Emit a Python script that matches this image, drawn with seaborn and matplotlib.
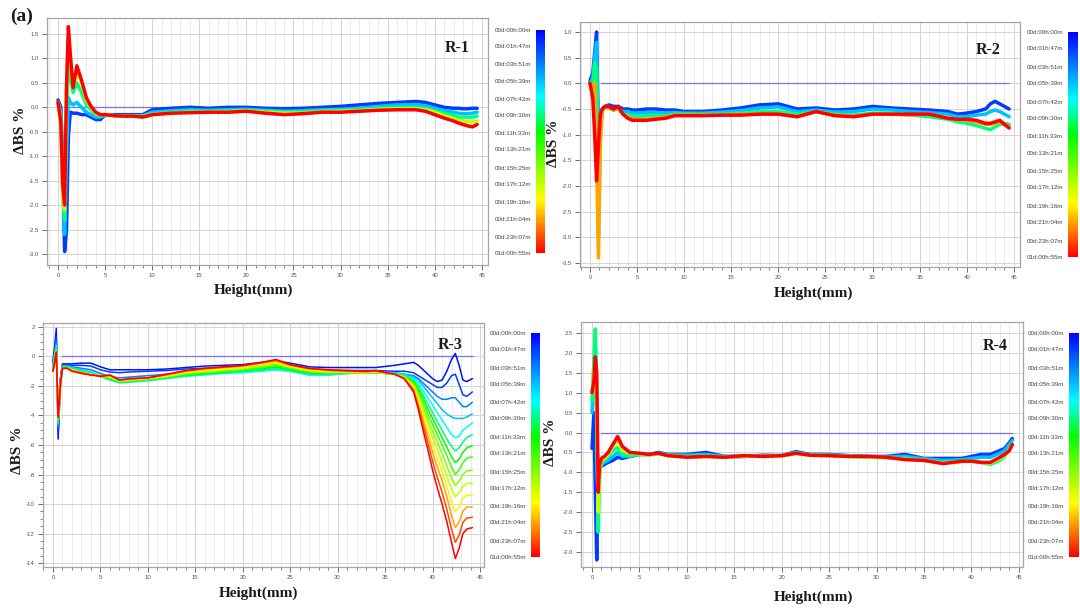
import numpy as np
import pandas as pd
import matplotlib
matplotlib.use("Agg")
import matplotlib.pyplot as plt
import seaborn as sns
from matplotlib.colors import LinearSegmentedColormap, Normalize
from matplotlib.ticker import MultipleLocator

# ---------------- data ----------------
TIME_LABELS = ["00d:00h:00m", "00d:01h:47m", "00d:03h:51m", "00d:05h:39m",
               "00d:07h:42m", "00d:09h:30m", "00d:11h:33m", "00d:13h:21m",
               "00d:15h:25m", "00d:17h:12m", "00d:19h:16m", "00d:21h:04m",
               "00d:23h:07m", "01d:00h:55m"]
TIME_HOURS = [0.0, 1.78, 3.85, 5.65, 7.70, 9.50, 11.55, 13.35,
              15.42, 17.20, 19.27, 21.07, 23.12, 24.92]

# reference (t = 0) profile: ΔBS = 0 along the tube
REF_R1 = ([1.2, 44.5], [0.0, 0.0])
REF_R2 = ([1.2, 44.5], [0.0, 0.0])
REF_R3 = ([0.9, 44.3], [0.0, 0.0])
REF_R4 = ([1.0, 44.3], [0.0, 0.0])

# ---- R-1 ----
R1_H = [0.0, 0.3, 0.5, 0.7, 0.9, 1.1, 1.3, 1.6, 2.0, 2.5, 3.0, 3.5, 4.0, 4.5,
        5, 6, 7, 8, 9, 10, 12, 14, 16, 18, 20, 22, 24, 26, 28, 30, 32, 34, 36,
        38, 39, 40, 41, 42, 42.5, 43, 43.5, 44, 44.5]
R1_TIMES = [1.78, 5.65, 9.50, 17.20, 24.92]
R1_DBS = [
    [0.15, 0.0, -1.2, -2.95, -2.5, -0.6, -0.1, -0.12, -0.12, -0.15, -0.15, -0.2, -0.25, -0.25,
     -0.15, -0.15, -0.15, -0.15, -0.15, -0.05, -0.02, 0.0, -0.02, 0.0, 0.0, -0.02, -0.03, -0.02,
     0.0, 0.02, 0.05, 0.08, 0.1, 0.12, 0.1, 0.05, 0.0, -0.02, -0.02, -0.03, -0.03, -0.02, -0.02],
    [0.1, -0.1, -1.5, -2.6, -1.0, 0.2, 0.1, 0.05, 0.1, 0.0, -0.1, -0.15, -0.2, -0.2,
     -0.15, -0.17, -0.17, -0.17, -0.17, -0.1, -0.07, -0.05, -0.06, -0.05, -0.04, -0.06, -0.08,
     -0.07, -0.05, -0.04, -0.02, 0.02, 0.05, 0.05, 0.03, -0.02, -0.07, -0.1, -0.12, -0.13,
     -0.13, -0.12, -0.1],
    [0.1, -0.2, -1.8, -2.3, 0.0, 0.9, 0.6, 0.3, 0.5, 0.3, 0.05, -0.05, -0.15, -0.18,
     -0.15, -0.17, -0.17, -0.18, -0.18, -0.13, -0.1, -0.08, -0.08, -0.07, -0.06, -0.08, -0.1,
     -0.09, -0.07, -0.06, -0.05, -0.02, 0.0, 0.0, -0.02, -0.07, -0.12, -0.17, -0.2, -0.2,
     -0.2, -0.2, -0.18],
    [0.1, -0.3, -1.9, -2.1, 0.3, 1.4, 1.0, 0.4, 0.75, 0.5, 0.15, 0.0, -0.12, -0.15,
     -0.15, -0.17, -0.18, -0.18, -0.2, -0.15, -0.12, -0.1, -0.1, -0.09, -0.07, -0.1, -0.12,
     -0.12, -0.09, -0.08, -0.07, -0.04, -0.03, -0.03, -0.05, -0.1, -0.17, -0.23, -0.27, -0.28,
     -0.3, -0.3, -0.28],
    [0.1, -0.3, -1.6, -2.0, 0.4, 1.65, 1.1, 0.4, 0.85, 0.55, 0.2, 0.02, -0.1, -0.15,
     -0.15, -0.17, -0.18, -0.18, -0.2, -0.15, -0.12, -0.11, -0.1, -0.1, -0.08, -0.12, -0.15,
     -0.13, -0.1, -0.1, -0.08, -0.06, -0.05, -0.05, -0.08, -0.15, -0.22, -0.28, -0.32, -0.35,
     -0.38, -0.4, -0.35],
]

# ---- R-2 ----
R2_H = R1_H
R2_TIMES = [1.78, 5.65, 9.50, 21.07, 24.92]
R2_DBS = [
    [0.05, 0.2, 0.6, 1.0, -1.2, -0.7, -0.5, -0.45, -0.42, -0.45, -0.45, -0.5, -0.5, -0.52,
     -0.52, -0.5, -0.5, -0.52, -0.52, -0.55, -0.55, -0.52, -0.48, -0.42, -0.4, -0.5, -0.48,
     -0.52, -0.5, -0.45, -0.48, -0.5, -0.52, -0.55, -0.6, -0.58, -0.55, -0.5, -0.4, -0.35,
     -0.4, -0.45, -0.5],
    [0.0, 0.1, 0.5, 0.8, -1.8, -0.8, -0.5, -0.45, -0.45, -0.5, -0.48, -0.55, -0.55, -0.58,
     -0.58, -0.57, -0.57, -0.58, -0.57, -0.58, -0.58, -0.56, -0.53, -0.48, -0.46, -0.55, -0.52,
     -0.56, -0.55, -0.5, -0.52, -0.55, -0.57, -0.6, -0.65, -0.65, -0.62, -0.6, -0.55, -0.52,
     -0.55, -0.6, -0.65],
    [0.0, 0.0, 0.4, 0.3, -3.0, -1.0, -0.5, -0.45, -0.48, -0.52, -0.5, -0.6, -0.62, -0.65,
     -0.65, -0.63, -0.62, -0.63, -0.6, -0.6, -0.6, -0.6, -0.58, -0.55, -0.55, -0.6, -0.55,
     -0.6, -0.62, -0.58, -0.58, -0.62, -0.65, -0.7, -0.75, -0.78, -0.82, -0.88, -0.9, -0.85,
     -0.8, -0.78, -0.8],
    [0.0, -0.1, 0.0, -1.5, -3.4, -1.2, -0.55, -0.45, -0.48, -0.52, -0.48, -0.6, -0.65, -0.7,
     -0.7, -0.7, -0.68, -0.66, -0.62, -0.62, -0.62, -0.62, -0.6, -0.6, -0.6, -0.65, -0.55,
     -0.62, -0.64, -0.6, -0.6, -0.62, -0.6, -0.68, -0.7, -0.72, -0.75, -0.8, -0.8, -0.78,
     -0.75, -0.8, -0.85],
    [0.0, -0.3, -1.0, -1.9, -1.2, -0.6, -0.5, -0.45, -0.45, -0.5, -0.45, -0.6, -0.68, -0.72,
     -0.72, -0.72, -0.7, -0.68, -0.63, -0.63, -0.63, -0.62, -0.62, -0.6, -0.6, -0.65, -0.55,
     -0.63, -0.65, -0.6, -0.6, -0.6, -0.6, -0.68, -0.7, -0.7, -0.72, -0.78, -0.78, -0.75,
     -0.72, -0.8, -0.87],
]

# ---- R-3 ----
R3_H = [0.0, 0.2, 0.35, 0.55, 0.8, 1.0, 1.5, 2, 3, 4, 5, 6, 7, 8, 10, 12, 14, 16, 18,
        20, 22, 23.5, 25, 27, 29, 31, 33, 34, 36, 37, 38, 38.5, 39, 39.5, 40, 40.5, 41,
        41.5, 42, 42.4, 42.8, 43.2, 43.6, 44.2]
R3_TIMES = [0.5, 1.78, 3.85, 5.65, 7.70, 9.50, 11.55, 13.35, 15.42, 17.20, 19.27,
            21.07, 23.12, 24.92]
R3_DBS = [
    [-0.3, 0.8, 1.9, -5.6, -1.5, -0.5,
     -0.5, -0.5, -0.45, -0.45, -0.7, -0.9, -0.9, -0.9, -0.9, -0.85, -0.75, -0.65, -0.6, -0.55,
     -0.4, -0.3, -0.45, -0.7, -0.75, -0.75, -0.75,
     -0.75, -0.6, -0.5, -0.4, -0.6, -0.9, -1.2, -1.5, -1.7, -1.6, -1.0, -0.2, 0.2, -0.6,
     -1.6, -1.7, -1.5],
    [-0.4, 0.5, 1.4, -5.2, -1.4, -0.55,
     -0.55, -0.6, -0.6, -0.65, -0.9, -1.05, -1.1, -1.05, -1.0, -0.95, -0.85, -0.8, -0.75, -0.7,
     -0.6, -0.55, -0.7, -0.9, -0.95, -0.95, -0.95,
     -0.95, -1.0, -1.0, -1.1, -1.3, -1.5, -1.7, -1.9, -2.1, -2.1, -1.8, -1.3, -1.2, -1.9,
     -2.6, -2.7, -2.4],
    [-0.5, 0.3, 1.0, -4.8, -1.5, -0.6,
     -0.6, -0.7, -0.8, -0.9, -1.15, -1.35, -1.45, -1.4, -1.3, -1.2, -1.1, -1.0, -0.95, -0.9,
     -0.8, -0.75, -0.9, -1.1, -1.15, -1.1, -1.05,
     -1.05, -1.1, -1.2, -1.3, -1.5, -1.8, -2.1, -2.4, -2.7, -2.9, -2.9, -2.8, -2.8, -3.1,
     -3.4, -3.4, -3.1],
    [-0.6, 0.2, 0.8, -4.6, -1.6, -0.65,
     -0.65, -0.75, -0.9, -1.05, -1.3, -1.55, -1.7, -1.65, -1.55, -1.45, -1.3, -1.2, -1.1, -1.05,
     -0.95, -0.9, -1.0, -1.25, -1.25, -1.15, -1.1,
     -1.1, -1.1, -1.2, -1.4, -1.6, -2.0, -2.4, -2.8, -3.2, -3.6, -3.9, -4.1, -4.2, -4.2,
     -4.2, -4.1, -3.9],
    [-0.7, 0.1, 0.7, -4.5, -1.7, -0.7,
     -0.7, -0.8, -0.95, -1.1, -1.35, -1.6, -1.8, -1.75, -1.65, -1.5, -1.35, -1.25, -1.15, -1.1,
     -1.0, -0.9, -1.0, -1.25, -1.25, -1.15, -1.1,
     -1.1, -1.15, -1.25, -1.5, -1.8, -2.3, -2.8, -3.3, -3.8, -4.3, -4.8, -5.3, -5.5, -5.4,
     -5.0, -4.8, -4.5],
    [-0.8, 0.0, 0.6, -4.4, -1.8, -0.7,
     -0.7, -0.85, -1.0, -1.15, -1.35, -1.55, -1.75, -1.7, -1.6, -1.45, -1.3, -1.2, -1.1, -1.0,
     -0.9, -0.8, -0.95, -1.2, -1.2, -1.1, -1.1,
     -1.1, -1.2, -1.3, -1.6, -2.0, -2.6, -3.2, -3.8, -4.4, -5.0, -5.6, -6.1, -6.4, -6.2,
     -5.8, -5.5, -5.3],
    [-0.85, -0.05, 0.55, -4.35, -1.85, -0.72,
     -0.72, -0.88, -1.02, -1.18, -1.35, -1.5, -1.72, -1.68, -1.58, -1.42, -1.25, -1.15, -1.05,
     -0.95, -0.82, -0.7, -0.88, -1.12, -1.15, -1.1, -1.12,
     -1.1, -1.2, -1.32, -1.7, -2.2, -2.85, -3.55, -4.2, -4.85, -5.5, -6.15, -6.8, -7.2, -6.95,
     -6.5, -6.2, -6.05],
    [-0.9, -0.1, 0.5, -4.3, -1.9, -0.75,
     -0.75, -0.9, -1.05, -1.2, -1.35, -1.45, -1.7, -1.65, -1.55, -1.4, -1.2, -1.1, -1.0, -0.9,
     -0.75, -0.6, -0.8, -1.05, -1.1, -1.1, -1.15,
     -1.1, -1.2, -1.35, -1.8, -2.4, -3.1, -3.9, -4.6, -5.3, -6.0, -6.7, -7.5, -8.0, -7.7,
     -7.2, -6.9, -6.8],
    [-0.95, -0.15, 0.45, -4.25, -1.9, -0.78,
     -0.78, -0.9, -1.08, -1.2, -1.32, -1.42, -1.68, -1.62, -1.52, -1.38, -1.15, -1.05, -0.95,
     -0.85, -0.68, -0.52, -0.75, -1.0, -1.08, -1.08, -1.12,
     -1.08, -1.2, -1.38, -1.9, -2.6, -3.4, -4.25, -5.05, -5.8, -6.6, -7.4, -8.25, -8.75, -8.45,
     -8.0, -7.75, -7.7],
    [-1.0, -0.2, 0.4, -4.2, -1.9, -0.8,
     -0.8, -0.9, -1.1, -1.2, -1.3, -1.4, -1.65, -1.6, -1.5, -1.35, -1.1, -1.0, -0.9, -0.8,
     -0.6, -0.45, -0.7, -0.95, -1.05, -1.05, -1.1,
     -1.05, -1.2, -1.4, -2.0, -2.8, -3.7, -4.6, -5.5, -6.3, -7.2, -8.1, -9.0, -9.5, -9.2,
     -8.8, -8.6, -8.6],
    [-1.0, -0.25, 0.35, -4.2, -1.9, -0.8,
     -0.8, -0.92, -1.1, -1.22, -1.3, -1.35, -1.62, -1.58, -1.48, -1.3, -1.05, -0.92, -0.82,
     -0.72, -0.52, -0.38, -0.65, -0.9, -1.0, -1.02, -1.08,
     -1.02, -1.2, -1.42, -2.1, -3.0, -4.0, -5.0, -6.0, -6.9, -7.8, -8.8, -9.9, -10.5, -10.2,
     -9.6, -9.4, -9.4],
    [-1.0, -0.3, 0.3, -4.2, -1.9, -0.8,
     -0.8, -0.95, -1.1, -1.25, -1.3, -1.3, -1.6, -1.55, -1.45, -1.25, -1.0, -0.85, -0.75, -0.65,
     -0.45, -0.3, -0.6, -0.85, -0.95, -1.0, -1.05,
     -1.0, -1.2, -1.45, -2.2, -3.2, -4.3, -5.4, -6.5, -7.5, -8.4, -9.5, -10.8, -11.6, -11.2,
     -10.5, -10.2, -10.2],
    [-1.0, -0.3, 0.3, -4.15, -1.85, -0.8,
     -0.8, -0.98, -1.12, -1.25, -1.32, -1.28, -1.6, -1.52, -1.45, -1.22, -0.98, -0.82, -0.72,
     -0.62, -0.42, -0.25, -0.58, -0.82, -0.92, -0.98, -1.02,
     -0.98, -1.2, -1.48, -2.3, -3.4, -4.65, -5.85, -7.1, -8.2, -9.2, -10.35, -11.7, -12.6,
     -12.1, -11.25, -10.95, -10.9],
    [-1.0, -0.3, 0.3, -4.1, -1.8, -0.8,
     -0.8, -1.0, -1.15, -1.25, -1.35, -1.25, -1.6, -1.5, -1.45, -1.2, -0.95, -0.8, -0.7, -0.6,
     -0.4, -0.2, -0.55, -0.8, -0.9, -0.95, -1.0,
     -0.95, -1.2, -1.5, -2.4, -3.6, -5.0, -6.3, -7.7, -8.9, -10.0, -11.2, -12.6, -13.7, -13.0,
     -12.0, -11.7, -11.6],
]

# ---- R-4 ----
R4_H = [0.0, 0.2, 0.35, 0.5, 0.65, 0.8, 1.0, 1.3, 1.7, 2.2, 2.7, 3.2, 4, 5, 6, 7, 8, 10,
        12, 14, 16, 18, 20, 21.5, 23, 25, 27, 29, 31, 33, 35, 37, 39, 40, 41, 42, 43,
        43.5, 44, 44.3]
R4_TIMES = [1.78, 5.65, 9.50, 17.20, 24.92]
R4_DBS = [
    [-0.4, 0.5, -1.5, -3.2, -1.0, -0.8, -0.85, -0.8, -0.75, -0.7, -0.62, -0.65, -0.6, -0.55,
     -0.55, -0.5, -0.55, -0.55, -0.5, -0.6, -0.6, -0.57, -0.58, -0.48, -0.55, -0.55, -0.58,
     -0.6, -0.6, -0.55, -0.65, -0.65, -0.65, -0.6, -0.55, -0.55, -0.45, -0.4, -0.25, -0.15],
    [0.5, 1.5, 2.3, 0.0, -2.0, -0.9, -0.8, -0.75, -0.7, -0.6, -0.5, -0.6, -0.6, -0.55,
     -0.55, -0.52, -0.56, -0.57, -0.55, -0.6, -0.6, -0.58, -0.58, -0.5, -0.56, -0.56, -0.58,
     -0.6, -0.61, -0.6, -0.66, -0.7, -0.68, -0.65, -0.62, -0.62, -0.52, -0.45, -0.3, -0.2],
    [0.8, 1.8, 2.6, 1.0, -2.5, -1.0, -0.75, -0.7, -0.6, -0.45, -0.38, -0.55, -0.58, -0.55,
     -0.56, -0.53, -0.57, -0.6, -0.58, -0.62, -0.6, -0.6, -0.6, -0.52, -0.57, -0.58, -0.6,
     -0.62, -0.63, -0.65, -0.7, -0.75, -0.72, -0.72, -0.75, -0.8, -0.7, -0.6, -0.4, -0.3],
    [1.0, 1.4, 1.8, 0.5, -2.0, -0.9, -0.7, -0.65, -0.55, -0.35, -0.2, -0.45, -0.52, -0.53,
     -0.56, -0.53, -0.58, -0.62, -0.6, -0.62, -0.59, -0.6, -0.59, -0.52, -0.57, -0.58, -0.6,
     -0.61, -0.63, -0.67, -0.7, -0.77, -0.73, -0.72, -0.75, -0.77, -0.65, -0.57, -0.43, -0.3],
    [1.0, 1.3, 1.9, 1.5, -1.5, -0.8, -0.65, -0.6, -0.5, -0.3, -0.1, -0.35, -0.5, -0.52,
     -0.55, -0.52, -0.58, -0.62, -0.6, -0.62, -0.58, -0.6, -0.58, -0.52, -0.57, -0.58, -0.6,
     -0.6, -0.62, -0.68, -0.7, -0.78, -0.72, -0.72, -0.75, -0.75, -0.62, -0.55, -0.45, -0.3],
]

PANELS = [
    dict(name="R-1", H=R1_H, times=R1_TIMES, dbs=R1_DBS, ref=REF_R1),
    dict(name="R-2", H=R2_H, times=R2_TIMES, dbs=R2_DBS, ref=REF_R2),
    dict(name="R-3", H=R3_H, times=R3_TIMES, dbs=R3_DBS, ref=REF_R3),
    dict(name="R-4", H=R4_H, times=R4_TIMES, dbs=R4_DBS, ref=REF_R4),
]

# ---------------- layout / style ----------------
W, Hpx = 1080, 612
sns.set_theme(style="white")
plt.rcParams["font.family"] = ["Liberation Sans", "DejaVu Sans"]

CMAP = LinearSegmentedColormap.from_list(
    "tsc", [(0.0, "#0000ff"), (0.30, "#00ffff"), (0.46, "#00ff00"),
            (0.76, "#ffff00"), (1.0, "#ff0000")])
NORM = Normalize(0.0, 24.92)

def px_rect(l, t, r, b):
    return [l / W, 1 - b / Hpx, (r - l) / W, (b - t) / Hpx]

CFG = [
    dict(ax=(47, 18, 488, 265), xlim=(-1.17, 45.65), ylim=(-3.225, 1.827), ymaj=0.5, ymin=None,
         cb=(536, 30, 545, 253), rpos=(0.93, 0.878), xl=(0.469, -0.075), yl=(-0.045, 0.547),
         lw=2.5, fmt="%.1f"),
    dict(ax=(580, 22, 1020, 267), xlim=(-1.06, 45.65), ylim=(-3.578, 1.195), ymaj=0.5, ymin=None,
         cb=(1068, 32, 1078, 257), rpos=(0.927, 0.886), xl=(0.53, -0.078), yl=(-0.045, 0.506),
         lw=2.5, fmt="%.1f"),
    dict(ax=(43, 323, 484, 567), xlim=(-1.05, 45.42), ylim=(-14.27, 2.27), ymaj=2, ymin=0.5,
         cb=(531, 333, 540, 557), rpos=(0.923, 0.91), xl=(0.488, -0.082), yl=(-0.043, 0.48),
         lw=1.1, fmt="%d"),
    dict(ax=(581, 322, 1023, 567), xlim=(-1.16, 45.43), ylim=(-3.377, 2.776), ymaj=0.5, ymin=None,
         cb=(1069, 333, 1079, 557), rpos=(0.937, 0.902), xl=(0.525, -0.094), yl=(-0.054, 0.51),
         lw=2.5, fmt="%.1f"),
]

fig = plt.figure(figsize=(W / 100, Hpx / 100), dpi=100)
fig.patch.set_facecolor("white")

SERIF = ["Liberation Serif", "DejaVu Serif"]
TXT = "#1e1a16"

for p, c in zip(PANELS, CFG):
    ax = fig.add_axes(px_rect(*c["ax"]))
    ax.set_facecolor("white")

    rows = []
    for t, vals in zip(p["times"], p["dbs"]):
        for h, v in zip(p["H"], vals):
            rows.append((h, v, t))
    df = pd.DataFrame(rows, columns=["height", "dbs", "time"])

    # t = 0 reference line
    sns.lineplot(x=p["ref"][0], y=p["ref"][1], ax=ax, color="#7272f2", lw=0.9,
                 zorder=2, legend=False)
    sns.lineplot(data=df, x="height", y="dbs", hue="time", palette=CMAP, hue_norm=NORM,
                 units="time", estimator=None, sort=False, lw=c["lw"], ax=ax,
                 legend=False, zorder=3)

    ax.set_xlim(*c["xlim"])
    ax.set_ylim(*c["ylim"])
    ax.xaxis.set_major_locator(MultipleLocator(5))
    ax.xaxis.set_minor_locator(MultipleLocator(1))
    ax.yaxis.set_major_locator(MultipleLocator(c["ymaj"]))
    if c["ymin"]:
        ax.yaxis.set_minor_locator(MultipleLocator(c["ymin"]))
    ax.yaxis.set_major_formatter(matplotlib.ticker.FormatStrFormatter(c["fmt"]))
    ax.grid(which="minor", axis="x", color="#e6e6e6", lw=0.6)
    ax.grid(which="major", axis="x", color="#d4d4d4", lw=0.7)
    ax.grid(which="major", axis="y", color="#d4d4d4", lw=0.7)
    ax.set_axisbelow(True)
    for s in ax.spines.values():
        s.set_color("#a5a5a5")
        s.set_linewidth(0.9)
    ax.tick_params(which="major", direction="out", length=3.5, width=0.6, color="#555555",
                   labelsize=4.3, labelcolor="#555555", pad=2.5,
                   bottom=True, left=True)
    ax.tick_params(which="minor", direction="out", length=2.5, width=0.5, color="#555555",
                   bottom=True, left=True)

    ax.set_xlabel("Height(mm)", fontsize=11, fontweight="bold", family=SERIF, color=TXT)
    ax.xaxis.set_label_coords(*c["xl"])
    ax.set_ylabel("ΔBS %", fontsize=11, fontweight="bold", family=SERIF, color=TXT)
    ax.yaxis.set_label_coords(*c["yl"])

    ax.text(c["rpos"][0], c["rpos"][1], p["name"], transform=ax.transAxes, ha="center",
            va="center", fontsize=11.5, fontweight="bold", family=SERIF, color=TXT, zorder=5)

    # colour bar of measurement times
    cax = fig.add_axes(px_rect(*c["cb"]))
    sm = matplotlib.cm.ScalarMappable(norm=NORM, cmap=CMAP)
    cb = fig.colorbar(sm, cax=cax, ticks=TIME_HOURS)
    cb.ax.set_yticklabels(TIME_LABELS)
    cb.ax.invert_yaxis()
    cb.ax.yaxis.set_ticks_position("left")
    cb.ax.tick_params(length=0, labelsize=4.5, pad=3.5, labelcolor="#444444")
    cb.outline.set_visible(False)

fig.text(10 / W, 1 - 16 / Hpx, "(a)", fontsize=14, fontweight="bold", family=SERIF,
         color=TXT, ha="left", va="center")

fig.savefig("out.png", dpi=100, facecolor="white")
